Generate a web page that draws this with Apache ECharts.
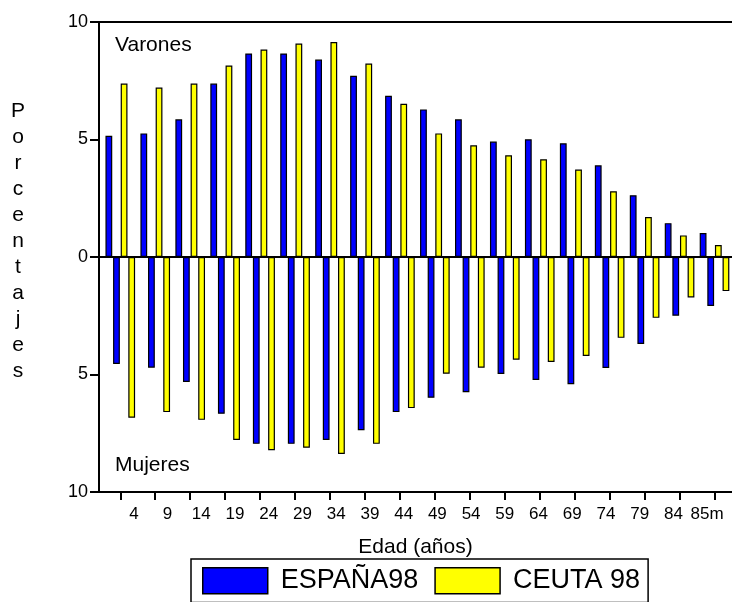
<!DOCTYPE html>
<html>
<head>
<meta charset="utf-8">
<title>Pirámide de población España 98 / Ceuta 98</title>
<script src="https://cdn.jsdelivr.net/npm/echarts@6/dist/echarts.min.js"></script>
<style>
  html, body { margin: 0; padding: 0; background: #fff; }
  #chart { width: 732px; height: 602px; }
</style>
</head>
<body>
<div id="chart"></div>
<script>
// grupos de edad (límite superior del grupo)
var edades = ["4", "9", "14", "19", "24", "29", "34", "39", "44", "49", "54", "59", "64", "69", "74", "79", "84", "85m"];

// porcentajes de varones (parte de arriba)
var espanaVarones = [5.16, 5.26, 5.86, 7.38, 8.66, 8.66, 8.40, 7.71, 6.86, 6.28, 5.86, 4.91, 5.01, 4.84, 3.90, 2.63, 1.44, 1.02];
var ceutaVarones = [7.38, 7.21, 7.38, 8.15, 8.83, 9.08, 9.15, 8.23, 6.52, 5.26, 4.75, 4.33, 4.16, 3.72, 2.80, 1.70, 0.92, 0.51];

// porcentajes de mujeres (parte de abajo)
var espanaMujeres = [4.55, 4.71, 5.32, 6.67, 7.95, 7.95, 7.79, 7.37, 6.60, 5.99, 5.75, 4.98, 5.23, 5.41, 4.72, 3.70, 2.50, 2.08];
var ceutaMujeres = [6.84, 6.60, 6.93, 7.79, 8.22, 8.12, 8.38, 7.95, 6.43, 4.97, 4.71, 4.37, 4.47, 4.21, 3.44, 2.59, 1.72, 1.45];

var fuente = "'Liberation Sans', Arial, sans-serif";

function negativo(arr) {
  return arr.map(function (v) { return -v; });
}

var chart = echarts.init(document.getElementById("chart"), null, { renderer: "canvas" });

// las barras van en el grid 1, algo desplazado respecto a los ejes
var barra = function (nombre, datos, color) {
  return {
    name: nombre,
    type: "bar",
    data: datos,
    barWidth: 6.8,
    barGap: "12%",
    xAxisIndex: 1,
    yAxisIndex: 1,
    itemStyle: { color: color, borderColor: "#000", borderWidth: 1.2 }
  };
};

var series = [
  barra("ESPAÑA98", espanaVarones, "#0000ff"),
  barra("ESPAÑA98", negativo(espanaMujeres), "#0000ff"),
  barra("CEUTA 98", ceutaVarones, "#ffff00"),
  barra("CEUTA 98", negativo(ceutaMujeres), "#ffff00"),
  // líneas horizontales en 0 y en 10, sobre el grid de los ejes
  {
    type: "line",
    data: [],
    xAxisIndex: 0,
    yAxisIndex: 0,
    markLine: {
      silent: true,
      symbol: ["none", "none"],
      label: { show: false },
      lineStyle: { color: "#000", width: 2, type: "solid" },
      data: [{ yAxis: 0 }, { yAxis: 10 }]
    }
  }
];

var option = {
  animation: false,
  textStyle: { fontFamily: fuente, color: "#000" },
  grid: [
    { left: 99, right: 0, top: 22, bottom: 110 },
    { left: 102.8, width: 632, top: 22, bottom: 110 },
    { left: 117, width: 607, top: 22, bottom: 110 }
  ],
  xAxis: [
    {
      gridIndex: 0,
      type: "category",
      data: edades,
      axisLine: { show: true, onZero: false, lineStyle: { color: "#000", width: 2 } },
      axisTick: { show: false },
      axisLabel: { show: false },
      name: "Edad (años)",
      nameLocation: "middle",
      nameGap: 45,
      nameTextStyle: { fontSize: 21, color: "#000", fontFamily: fuente }
    },
    {
      gridIndex: 1,
      type: "category",
      data: edades,
      axisLine: { show: false, onZero: false },
      axisTick: { show: true, alignWithLabel: true, length: 8, lineStyle: { color: "#000", width: 2 } },
      axisLabel: { show: false }
    },
    {
      gridIndex: 2,
      type: "category",
      data: edades,
      axisLine: { show: false, onZero: false },
      axisTick: { show: false },
      axisLabel: { interval: 0, fontSize: 17, color: "#000", fontFamily: fuente, margin: 14 }
    }
  ],
  yAxis: [
    {
      gridIndex: 0,
      type: "value",
      min: -10,
      max: 10,
      interval: 5,
      splitLine: { show: false },
      axisLine: { show: true, lineStyle: { color: "#000", width: 2 } },
      axisTick: { show: true, length: 9, lineStyle: { color: "#000", width: 2 } },
      axisLabel: {
        fontSize: 18,
        color: "#000",
        fontFamily: fuente,
        margin: 11,
        formatter: function (v) { return Math.abs(v); }
      }
    },
    { gridIndex: 1, type: "value", min: -10, max: 10, show: false },
    { gridIndex: 2, type: "value", min: -10, max: 10, show: false }
  ],
  legend: {
    data: ["ESPAÑA98", "CEUTA 98"],
    left: 191,
    top: 559,
    orient: "horizontal",
    icon: "rect",
    itemWidth: 65,
    itemHeight: 26,
    itemGap: 16,
    padding: [8, 8, 8, 11],
    borderColor: "#000",
    borderWidth: 1.5,
    selectedMode: false,
    itemStyle: { borderColor: "#000", borderWidth: 1.5 },
    textStyle: { fontSize: 27, color: "#000", fontFamily: fuente, padding: [0, 0, 0, 8] }
  },
  graphic: [
    {
      type: "text",
      style: {
        x: 18, y: 241,
        text: "Porcentajes".split("").join("\n"),
        align: "center", verticalAlign: "middle",
        lineHeight: 26, fontSize: 21, fontFamily: fuente, fill: "#000"
      }
    },
    {
      type: "text",
      style: { x: 115, y: 45.5, text: "Varones", verticalAlign: "middle", fontSize: 21, fontFamily: fuente, fill: "#000" }
    },
    {
      type: "text",
      style: { x: 115, y: 465, text: "Mujeres", verticalAlign: "middle", fontSize: 21, fontFamily: fuente, fill: "#000" }
    }
  ],
  series: series
};

chart.setOption(option);
</script>
</body>
</html>
